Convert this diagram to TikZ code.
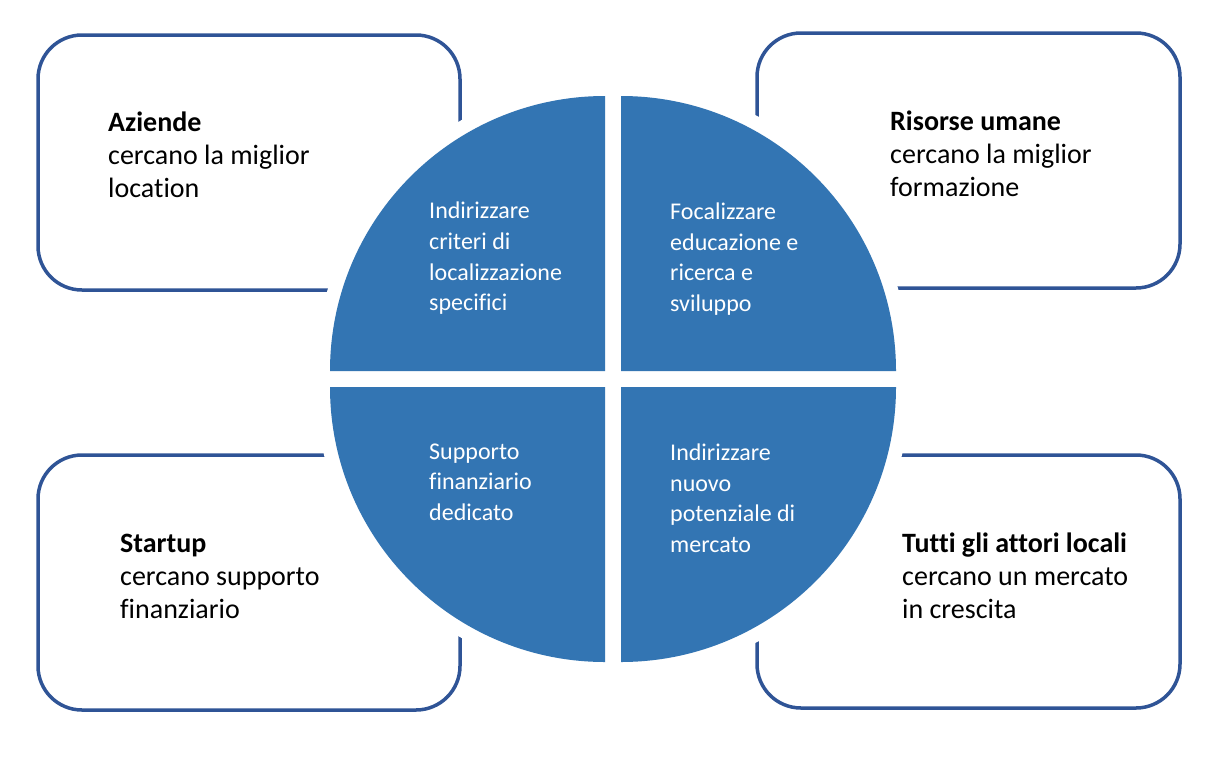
\documentclass[tikz,border=0pt]{standalone}
\usepackage{fontspec}
\setmainfont{Carlito}[Ligatures=NoCommon]
\definecolor{boxblue}{HTML}{2F5496}
\definecolor{quadblue}{HTML}{3375B3}
\tikzset{
  card/.style={draw=boxblue, line width=3.5pt, fill=white, rounded corners=44pt},
  halo/.style={fill=white, draw=white, line width=28pt, line join=round},
  quad/.style={fill=quadblue},
  cardtext/.style={anchor=north west, inner sep=0pt, align=left, font=\fontsize{28}{33}\selectfont, text=black},
  quadtext/.style={anchor=north west, inner sep=0pt, align=left, font=\fontsize{24}{30.7}\selectfont, text=white}
}
\begin{document}
\begin{tikzpicture}[x=1pt,y=-1pt]
\useasboundingbox (0,0) rectangle (1220,758);
% cards
\draw[card] (38,35) rectangle (460,290);
\draw[card] (757,33) rectangle (1180,288);
\draw[card] (38,455) rectangle (460,710);
\draw[card] (757,455) rectangle (1180,708);
% quadrant corners
\coordinate (ctl) at (605,371);
\coordinate (ctr) at (621,371);
\coordinate (cbl) at (605,387);
\coordinate (cbr) at (621,387);
% halos
\path[halo] (ctl) -- ++(-275,0) arc[start angle=180,end angle=270,radius=275] -- cycle;
\path[halo] (ctr) -- ++(0,-275) arc[start angle=270,end angle=360,radius=275] -- cycle;
\path[halo] (cbl) -- ++(-275,0) arc[start angle=180,end angle=90,radius=275] -- cycle;
\path[halo] (cbr) -- ++(0,275) arc[start angle=90,end angle=0,radius=275] -- cycle;
% quadrants
\fill[quad] (ctl) -- ++(-275,0) arc[start angle=180,end angle=270,radius=275] -- cycle;
\fill[quad] (ctr) -- ++(0,-275) arc[start angle=270,end angle=360,radius=275] -- cycle;
\fill[quad] (cbl) -- ++(-275,0) arc[start angle=180,end angle=90,radius=275] -- cycle;
\fill[quad] (cbr) -- ++(0,275) arc[start angle=90,end angle=0,radius=275] -- cycle;
% card texts
\node[cardtext] (t1) at (108,111.5) {\textbf{Aziende}\\cercano la miglior\\location};
\node[cardtext] (t2) at (890,111) {\textbf{Risorse umane}\\cercano la miglior\\formazione};
\node[cardtext] (t3) at (120,534) {\textbf{Startup}\\cercano supporto\\finanziario};
\node[cardtext] (t4) at (902,533) {\textbf{Tutti gli attori locali}\\cercano un mercato\\in crescita};
% quadrant texts
\node[quadtext] (q1) at (429,202) {Indirizzare\\criteri di\\localizzazione\\specifici};
\node[quadtext] (q2) at (670,202.5) {Focalizzare\\educazione e\\ricerca e\\sviluppo};
\node[quadtext] (q3) at (429,443.5) {Supporto\\finanziario\\dedicato};
\node[quadtext] (q4) at (670,443.5) {Indirizzare\\nuovo\\potenziale di\\mercato};
\end{tikzpicture}
\end{document}
